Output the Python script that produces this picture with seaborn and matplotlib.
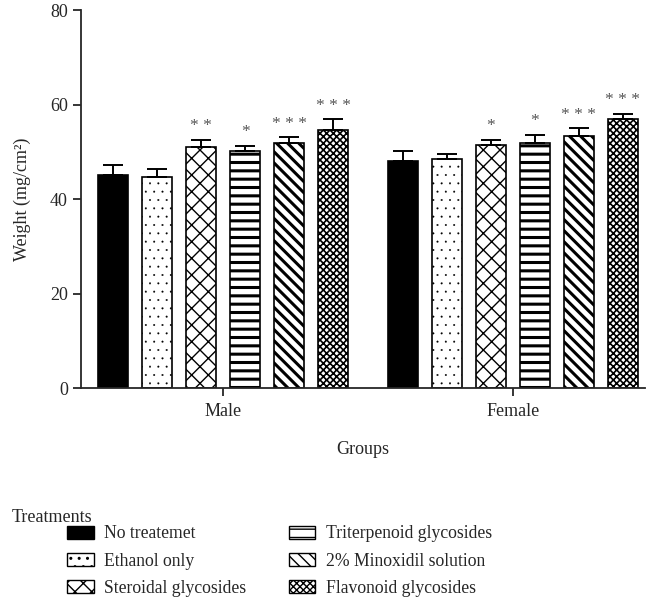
import matplotlib
matplotlib.use("Agg")
import matplotlib.pyplot as plt
import matplotlib.patches as mpatches
import seaborn as sns
import pandas as pd

# data
groups = ["Male", "Female"]
treatments = ["No treatemet", "Ethanol only", "Steroidal glycosides",
              "Triterpenoid glycosides", "2% Minoxidil solution", "Flavonoid glycosides"]
male_means = [45.2, 44.6, 51.0, 50.1, 51.8, 54.7]
male_sem = [2.1, 1.7, 1.6, 1.2, 1.3, 2.2]
female_means = [48.1, 48.6, 51.4, 51.8, 53.4, 57.0]
female_sem = [2.1, 1.0, 1.2, 1.8, 1.6, 1.1]
male_sig = ["", "", "**", "*", "***", "***"]
female_sig = ["", "", "*", "*", "***", "***"]

colors = ["black", "white", "white", "white", "white", "white"]
hatches = [None, "..", "xx", "--", "\\\\\\", "xxxxx"]
hatch_lw = [1.0, 0.2, 1.0, 2.2, 2.2, 1.2]

rows = []
for i, t in enumerate(treatments):
    rows.append({"Group": "Male", "Treatment": t, "Weight": male_means[i], "SEM": male_sem[i], "Sig": male_sig[i]})
    rows.append({"Group": "Female", "Treatment": t, "Weight": female_means[i], "SEM": female_sem[i], "Sig": female_sig[i]})
df = pd.DataFrame(rows)

sns.set_style("ticks")
plt.rcParams["font.family"] = ["Liberation Serif", "DejaVu Serif"]
plt.rcParams["font.size"] = 13

fig = plt.figure(figsize=(6.54, 6.0), dpi=100)
ax = fig.add_axes([0.124, 0.353, 0.862, 0.630])

sns.barplot(data=df, x="Group", y="Weight", hue="Treatment", order=groups,
            hue_order=treatments, palette=colors, errorbar=None, width=0.91,
            gap=0.32, edgecolor="black", linewidth=1.2, legend=False, ax=ax)

bar_conts = list(ax.containers)
for i, cont in enumerate(bar_conts):
    sub = df[df["Treatment"] == treatments[i]].set_index("Group").loc[groups]
    for bar, (_, r) in zip(cont.patches, sub.iterrows()):
        if hatches[i]:
            bar.set_hatch(hatches[i])
            if hasattr(bar, "set_hatch_linewidth"):
                bar.set_hatch_linewidth(hatch_lw[i])
        cx = bar.get_x() + bar.get_width() / 2
        top = bar.get_height()
        ax.errorbar(cx, top, yerr=[[0], [r["SEM"]]], fmt="none", ecolor="black",
                    elinewidth=1.4, capsize=7, capthick=1.4, zorder=1)
        if r["Sig"]:
            ax.annotate(" ".join(r["Sig"]), (cx, top + r["SEM"]), xytext=(0, 4),
                        textcoords="offset points", ha="center", va="bottom",
                        fontsize=12.5, color="#555555")

ax.set_ylim(0, 80)
ax.set_yticks([0, 20, 40, 60, 80])
ax.set_xlim(-0.49, 1.455)
ax.set_xlabel("Groups", fontsize=13, labelpad=15)
ax.set_ylabel("Weight (mg/cm²)", fontsize=13, labelpad=14)
ax.tick_params(axis="both", labelsize=13, width=1.3, length=6)
ax.tick_params(axis="x", pad=5)
sns.despine(ax=ax)
for s in ["left", "bottom"]:
    ax.spines[s].set_linewidth(1.3)

# legend
handles = []
for i, t in enumerate(treatments):
    p = mpatches.Patch(facecolor=colors[i], edgecolor="black", hatch=hatches[i], linewidth=1.0, label=t)
    if hasattr(p, "set_hatch_linewidth"):
        p.set_hatch_linewidth(min(hatch_lw[i], 1.2))
    handles.append(p)
fig.text(0.018, 0.138, "Treatments", fontsize=13, va="center", ha="left")
fig.legend(handles=handles, loc="upper left", bbox_to_anchor=(0.092, 0.136), ncol=2,
           frameon=False, fontsize=12.7, handlelength=1.5, handleheight=0.75,
           handletextpad=0.6, labelspacing=0.58, columnspacing=2.4, borderaxespad=0)

plt.savefig("out.png", dpi=100)
